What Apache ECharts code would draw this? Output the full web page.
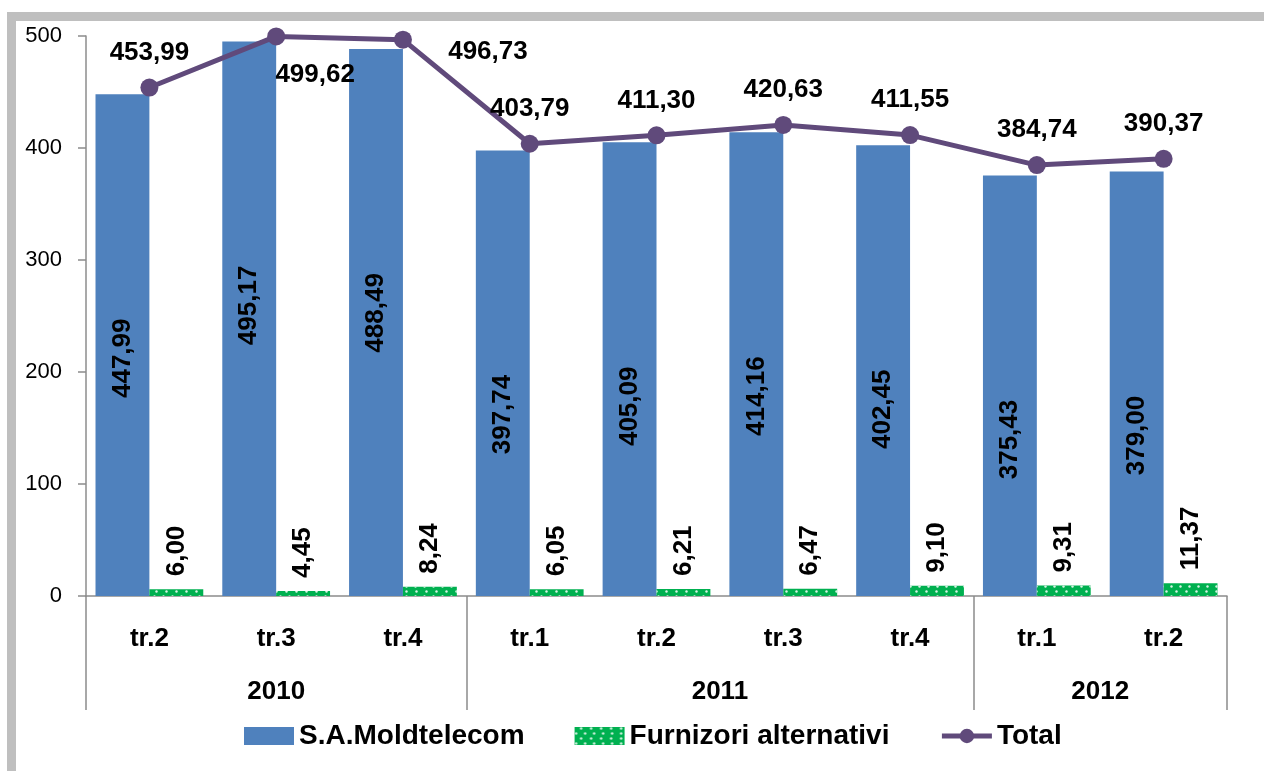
<!DOCTYPE html>
<html>
<head>
<meta charset="utf-8">
<script src="https://cdn.jsdelivr.net/npm/echarts@6/dist/echarts.min.js"></script>
<style>
html, body { margin: 0; padding: 0; background: #fff; overflow: hidden; }
#frame {
    position: absolute; left: 7px; top: 12px;
    width: 1280px; height: 800px;
    border: 9px solid #bfbfbf;
}
#chart { position: absolute; left: 0; top: 0; width: 1264px; height: 771px; }
</style>
</head>
<body>
<div id="frame"></div>
<div id="chart"></div>
<script>
// date
const quarters = ['tr.2', 'tr.3', 'tr.4', 'tr.1', 'tr.2', 'tr.3', 'tr.4', 'tr.1', 'tr.2'];
const years = ['2010', '2011', '2012'];
const yearSpans = [3, 4, 2];
const moldtelecom = [447.99, 495.17, 488.49, 397.74, 405.09, 414.16, 402.45, 375.43, 379.00];
const alternativi = [6.00, 4.45, 8.24, 6.05, 6.21, 6.47, 9.10, 9.31, 11.37];
const total = [453.99, 499.62, 496.73, 403.79, 411.30, 420.63, 411.55, 384.74, 390.37];

// mutari pentru etichetele liniei "Total"
const totalLabelShift = [[0, 0], [39, 73], [85, 47], [0, 0], [0, 0], [0, 0], [0, 0], [0, 0], [0, 0]];

const FONT = '"Liberation Sans", Arial, sans-serif';
const GRAY = '#8c8c8c';
const PURPLE = '#604a7b';

function fmt(v) {
    return v.toFixed(2).replace('.', ',');
}

// axa anilor: puncte la fiecare jumatate de trimestru
const yearData = [];
const yearTicks = [0];
let start = 0;
for (let i = 0; i <= quarters.length * 2; i++) yearData.push('');
years.forEach((y, i) => {
    yearData[start + yearSpans[i]] = y;   // mijlocul intervalului (in jumatati)
    start += yearSpans[i] * 2;
    yearTicks.push(start);
});

const grid = { left: 86, right: 37, top: 36, bottom: 175 };

let chart = echarts.init(document.getElementById('chart'));

chart.setOption({
    backgroundColor: 'transparent',
    textStyle: { fontFamily: FONT },
    grid: [grid, Object.assign({}, grid)],
    legend: {
        left: 239,
        top: 717,
        itemWidth: 50,
        itemHeight: 18,
        itemGap: 50,
        textStyle: { fontSize: 28, fontWeight: 'bold', color: '#000', fontFamily: FONT },
        data: [
            { name: 'S.A.Moldtelecom', icon: 'rect' },
            { name: 'Furnizori alternativi', icon: 'rect' },
            { name: 'Total', lineStyle: { width: 5, color: PURPLE } }
        ]
    },
    xAxis: [
        {
            type: 'category',
            gridIndex: 0,
            data: quarters,
            axisLine: { lineStyle: { color: GRAY, width: 1.5 } },
            axisTick: { length: 57, interval: 0, lineStyle: { color: GRAY, width: 1.5 } },
            axisLabel: { margin: 30, fontSize: 26, fontWeight: 'bold', color: '#000', fontFamily: FONT }
        },
        {
            type: 'category',
            gridIndex: 1,
            boundaryGap: false,
            data: yearData,
            axisLine: { show: false },
            axisTick: {
                length: 114,
                interval: (idx) => yearTicks.indexOf(idx) >= 0,
                lineStyle: { color: GRAY, width: 1.5 }
            },
            axisLabel: { interval: 0, margin: 83, fontSize: 26, fontWeight: 'bold', color: '#000', fontFamily: FONT }
        }
    ],
    yAxis: [
        {
            type: 'value',
            gridIndex: 0,
            min: 0,
            max: 500,
            interval: 100,
            splitLine: { show: false },
            axisLine: { show: true, lineStyle: { color: GRAY, width: 1.5 } },
            axisTick: { show: true, length: 8, lineStyle: { color: GRAY, width: 1.5 } },
            axisLabel: { margin: 24, fontSize: 22, color: '#000', fontFamily: FONT }
        },
        { type: 'value', gridIndex: 1, min: 0, max: 500, show: false }
    ],
    series: [
        {
            name: 'S.A.Moldtelecom',
            type: 'bar',
            data: moldtelecom,
            barGap: '0%',
            barCategoryGap: '15%',
            itemStyle: { color: '#4f81bd' },
            label: {
                show: true,
                position: ['50%', 264],
                rotate: 90,
                align: 'center',
                verticalAlign: 'middle',
                fontSize: 26,
                fontWeight: 'bold',
                color: '#000',
                fontFamily: FONT,
                formatter: (p) => fmt(p.value)
            }
        },
        {
            name: 'Furnizori alternativi',
            type: 'bar',
            data: alternativi,
            itemStyle: {
                color: '#00b050',
                decal: {
                    symbol: 'circle',
                    symbolSize: 0.8,
                    color: 'rgba(255,255,255,0.85)',
                    dashArrayX: [[3, 6], [0, 4.5, 3, 1.5]],
                    dashArrayY: [3, 2]
                }
            },
            label: {
                show: true,
                position: ['50%', -13],
                rotate: 90,
                align: 'left',
                verticalAlign: 'middle',
                fontSize: 26,
                fontWeight: 'bold',
                color: '#000',
                fontFamily: FONT,
                formatter: (p) => fmt(p.value)
            }
        },
        {
            name: 'Total',
            type: 'line',
            data: total.map((v, i) => ({
                value: v,
                label: { offset: totalLabelShift[i] }
            })),
            symbol: 'circle',
            symbolSize: 18,
            color: PURPLE,
            lineStyle: { color: PURPLE, width: 5 },
            itemStyle: { color: PURPLE },
            z: 5,
            label: {
                show: true,
                position: 'top',
                distance: 13,
                fontSize: 26,
                fontWeight: 'bold',
                color: '#000',
                fontFamily: FONT,
                formatter: (p) => fmt(p.value)
            }
        }
    ]
});

window.addEventListener('resize', () => {
    chart.resize();
});
</script>
</body>
</html>
